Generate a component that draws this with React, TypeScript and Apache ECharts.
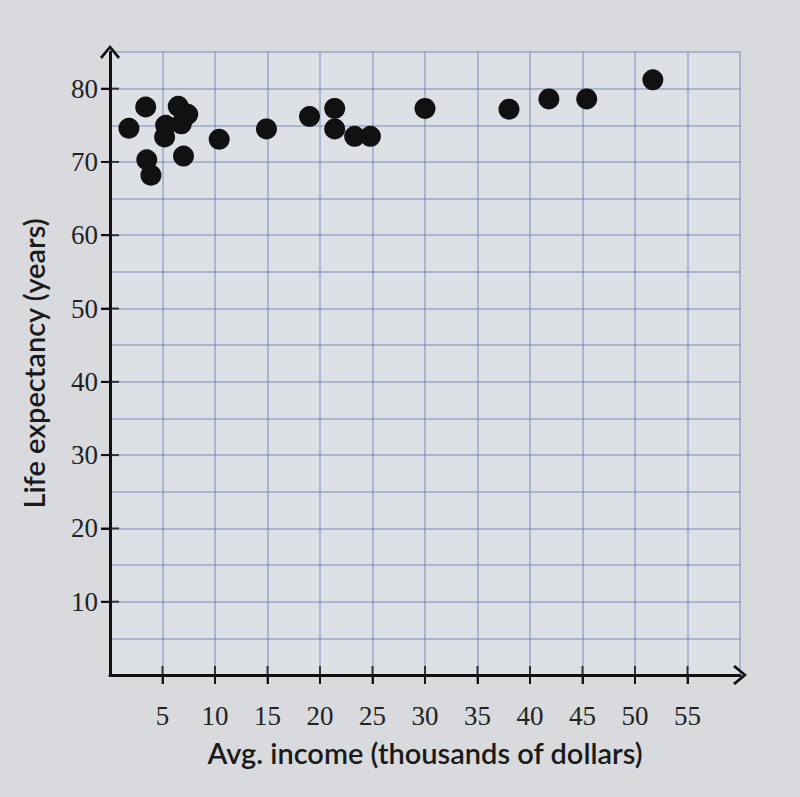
import React, { useEffect, useRef } from "react";
import * as echarts from "echarts";

// Avg. income (thousands of dollars)
const incomes = [1.8, 3.4, 3.5, 3.9, 6.5, 7.4, 5.3, 5.2, 6.8, 7.0, 10.4, 14.9, 19.0, 21.4, 21.4, 23.3, 24.8, 30.0, 38.0, 41.8, 45.4, 51.7];
// Life expectancy (years)
const lifeExpectancy = [74.6, 77.5, 70.3, 68.2, 77.6, 76.5, 75.0, 73.4, 75.2, 70.8, 73.1, 74.5, 76.2, 77.3, 74.5, 73.5, 73.5, 77.3, 77.2, 78.6, 78.6, 81.2];

const xTickValues = [5, 10, 15, 20, 25, 30, 35, 40, 45, 50, 55];
const yTickValues = [10, 20, 30, 40, 50, 60, 70, 80];

const xName = "Avg. income (thousands of dollars)";
const yName = "Life expectancy (years)";

const chevron = "path://M0,12 L10,0 L20,12 L18,14 L10,4 L2,14 Z";

export default function App() {
  const ref = useRef<HTMLDivElement>(null);
  useEffect(() => {
    if (!ref.current) return;
    const chart = echarts.init(ref.current, undefined, { renderer: "svg" });
    const axisColor = "#111";
    const gridColor = "rgba(110,128,185,0.45)";
    const labelFont = { fontFamily: "Liberation Serif", fontSize: 27, color: "#222" };
    const nameFont = { fontFamily: "Lato", fontWeight: 600, fontSize: 29, color: "#1a1a1a" };
    chart.setOption({
      animation: false,
      backgroundColor: "#d8dade",
      grid: { left: 110, right: 60, top: 52, bottom: 122, show: true, backgroundColor: "#dde0e5", borderWidth: 0 },
      xAxis: [
        {
          type: "value",
          min: 0,
          max: 60,
          position: "bottom",
          name: xName,
          nameLocation: "middle",
          nameGap: 63,
          nameTextStyle: nameFont,
          axisLine: {
            show: true,
            onZero: false,
            symbol: ["none", chevron],
            symbolSize: [20, 14],
            lineStyle: { color: axisColor, width: 3 },
          },
          axisTick: { show: true, length: 9, customValues: xTickValues, lineStyle: { color: axisColor, width: 2 } },
          axisLabel: { show: true, margin: 27, customValues: xTickValues, ...labelFont },
          splitLine: { show: false },
        },
        {
          type: "value",
          min: 0,
          max: 60,
          interval: 5,
          position: "top",
          axisLine: { show: false },
          axisLabel: { show: false },
          axisTick: { show: false },
          splitLine: { show: true, lineStyle: { color: gridColor, width: 2 } },
        },
      ],
      yAxis: [
        {
          type: "value",
          min: 0,
          max: 85,
          position: "left",
          name: yName,
          nameLocation: "middle",
          nameGap: 62,
          nameTextStyle: nameFont,
          axisLine: {
            show: true,
            onZero: false,
            symbol: ["none", chevron],
            symbolSize: [20, 14],
            lineStyle: { color: axisColor, width: 3 },
          },
          axisTick: { show: true, length: 9, customValues: yTickValues, lineStyle: { color: axisColor, width: 2 } },
          axisLabel: { show: true, margin: 12, customValues: yTickValues, ...labelFont },
          splitLine: { show: false },
        },
        {
          type: "value",
          min: 0,
          max: 85,
          interval: 5,
          position: "right",
          axisLine: { show: false },
          axisLabel: { show: false },
          axisTick: { show: false },
          splitLine: { show: true, lineStyle: { color: gridColor, width: 2 } },
        },
      ],
      series: [
        {
          type: "scatter",
          xAxisIndex: 0,
          yAxisIndex: 0,
          symbol: "rect",
          symbolSize: [2, 18],
          clip: false,
          silent: true,
          itemStyle: { color: axisColor },
          data: xTickValues.map((v) => [v, 0]),
        },
        {
          type: "scatter",
          xAxisIndex: 0,
          yAxisIndex: 0,
          symbol: "rect",
          symbolSize: [18, 2],
          clip: false,
          silent: true,
          itemStyle: { color: axisColor },
          data: yTickValues.map((v) => [0, v]),
        },
        {
          type: "scatter",
          xAxisIndex: 0,
          yAxisIndex: 0,
          symbol: "circle",
          symbolSize: 21,
          itemStyle: { color: "#111111", opacity: 1 },
          data: incomes.map((x, i) => [x, lifeExpectancy[i]]),
        },
      ],
    });
    return () => chart.dispose();
  }, []);
  return (
    <div
      ref={ref}
      style={{ position: "fixed", left: 0, top: 0, width: 800, height: 797 }}
    />
  );
}
